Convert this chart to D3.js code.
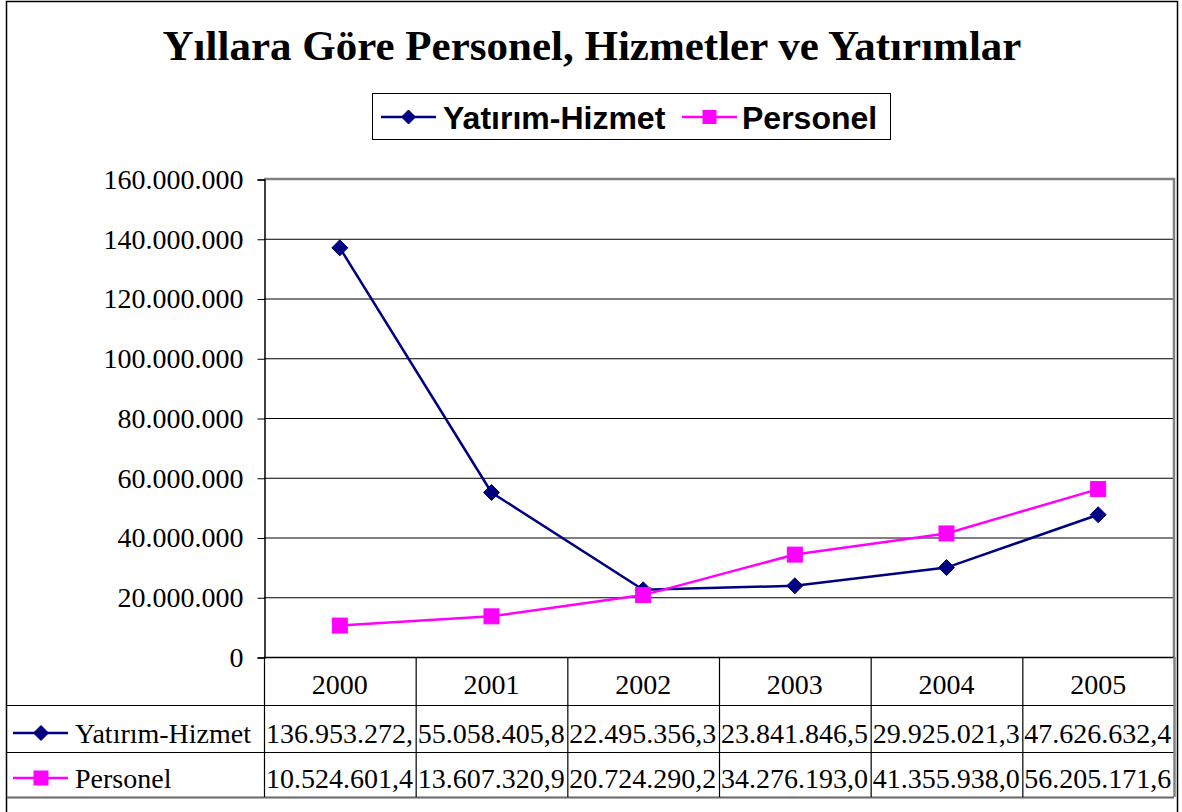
<!DOCTYPE html>
<html>
<head>
<meta charset="utf-8">
<title>Yıllara Göre Personel, Hizmetler ve Yatırımlar</title>
<script src="https://cdn.jsdelivr.net/npm/d3@7"></script>
<style>
  body { margin: 0; background: #fff; }
  svg { display: block; }
</style>
</head>
<body>
<svg width="1182" height="812" id="mainsvg"></svg>
<script>
// data
const years = ['2000', '2001', '2002', '2003', '2004', '2005'];
const yatirimHizmet = [136953272.9, 55058405.8, 22495356.3, 23841846.5, 29925021.3, 47626632.4];
const personel = [10524601.4, 13607320.9, 20724290.2, 34276193.0, 41355938.0, 56205171.6];
const seriesNames = ['Yatırım-Hizmet', 'Personel'];
const yTicks = [0, 20000000, 40000000, 60000000, 80000000, 100000000, 120000000, 140000000, 160000000];
const title = 'Yıllara Göre Personel, Hizmetler ve Yatırımlar';

const colors = ['#000080', '#FF00FF'];
const serif = '"Liberation Serif", "Times New Roman", serif';
const sans = '"Liberation Sans", Arial, sans-serif';

const tr = d3.formatLocale({ decimal: ',', thousands: '.', grouping: [3], currency: ['', ' TL'] });
const fmtAxis = tr.format(',.0f');
const fmtCell = tr.format(',.1f');

const svg = d3.select('svg');

// outer chart frame
svg.append('rect').attr('x', 6.5).attr('y', 1.5).attr('width', 1171).attr('height', 830)
  .attr('fill', '#fff').attr('stroke', '#000').attr('stroke-width', 1.5);

// title
svg.append('text').attr('x', 592).attr('y', 60).attr('text-anchor', 'middle')
  .style('font-family', serif).style('font-weight', 'bold').style('font-size', '43px')
  .text(title);

const plot = { left: 264, top: 179, right: 1174, bottom: 657 };

const x = d3.scaleBand().domain(years).range([plot.left, plot.right]);
const y = d3.scaleLinear().domain([0, 160000000]).range([plot.bottom, plot.top]);

// gridlines
svg.append('g').selectAll('line').data(yTicks.slice(1, -1)).join('line')
  .attr('x1', plot.left).attr('x2', plot.right)
  .attr('y1', d => y(d) + 0.5).attr('y2', d => y(d) + 0.5)
  .attr('stroke', '#000').attr('stroke-width', 1);

// plot border (gray top/right)
svg.append('path')
  .attr('d', `M${plot.left},${plot.top} H${plot.right} V${plot.bottom}`)
  .attr('fill', 'none').attr('stroke', '#808080').attr('stroke-width', 2.5);

// y axis
const yAxis = d3.axisLeft(y).tickValues(yTicks).tickFormat(fmtAxis).tickSize(7).tickPadding(14);
const gy = svg.append('g').attr('transform', `translate(${plot.left + 0.5},0.5)`).call(yAxis);
gy.select('.domain').attr('stroke', '#000').attr('stroke-width', 1.5);
gy.selectAll('.tick line').attr('stroke', '#000');
gy.selectAll('.tick text').style('font-family', serif).style('font-size', '28px').attr('fill', '#000');

// baseline
svg.append('line').attr('x1', plot.left).attr('x2', plot.right)
  .attr('y1', plot.bottom + 0.5).attr('y2', plot.bottom + 0.5).attr('stroke', '#000').attr('stroke-width', 1.5);

// marker drawers
function drawMarker(g, i, cx, cy, s) {
  if (i === 0) {
    g.append('path').attr('d', `M${cx},${cy - s} L${cx + s},${cy} L${cx},${cy + s} L${cx - s},${cy} Z`)
      .attr('fill', colors[0]).attr('stroke', colors[0]).attr('stroke-width', 1);
  } else {
    g.append('rect').attr('x', cx - s).attr('y', cy - s).attr('width', 2 * s).attr('height', 2 * s)
      .attr('fill', colors[1]).attr('stroke', colors[1]).attr('stroke-width', 1);
  }
}

const allSeries = [yatirimHizmet, personel];
const line = d3.line().x((d, i) => x(years[i]) + x.bandwidth() / 2).y(d => y(d));

allSeries.forEach((vals, si) => {
  const g = svg.append('g');
  g.append('path').datum(vals).attr('d', line)
    .attr('fill', 'none').attr('stroke', colors[si]).attr('stroke-width', 2.5);
  vals.forEach((v, i) => drawMarker(g, si, x(years[i]) + x.bandwidth() / 2, y(v), si === 0 ? 8 : 7.5));
});

// legend
const legend = svg.append('g');
legend.append('rect').attr('x', 372.5).attr('y', 93.5).attr('width', 518).attr('height', 46)
  .attr('fill', '#fff').attr('stroke', '#000').attr('stroke-width', 1);
const legItems = [{ x0: 381, tx: 443 }, { x0: 682, tx: 742 }];
legItems.forEach((it, i) => {
  const lg = legend.append('g');
  lg.append('line').attr('x1', it.x0).attr('x2', it.x0 + 55).attr('y1', 117).attr('y2', 117)
    .attr('stroke', colors[i]).attr('stroke-width', 2.5);
  drawMarker(lg, i, it.x0 + 27.5, 117, i === 0 ? 7 : 6.5);
  lg.append('text').attr('x', it.tx).attr('y', 129)
    .style('font-family', sans).style('font-weight', 'bold').style('font-size', '32px')
    .text(seriesNames[i]);
});

// data table
const rows = [657, 705, 752, 797];
const table = svg.append('g');
// horizontal lines
table.selectAll('line.h').data(rows.slice(1)).join('line')
  .attr('x1', 7).attr('x2', plot.right)
  .attr('y1', d => d + 0.5).attr('y2', d => d + 0.5)
  .attr('stroke', (d, i) => i === 2 ? '#666' : '#000').attr('stroke-width', (d, i) => i === 2 ? 2 : 1.2);
// vertical lines
const colEdges = years.map(yr => x(yr)).concat([plot.right]);
table.selectAll('line.v').data(colEdges).join('line')
  .attr('x1', d => d + 0.5).attr('x2', d => d + 0.5)
  .attr('y1', plot.bottom).attr('y2', rows[3])
  .attr('stroke', (d, i) => i === colEdges.length - 1 ? '#808080' : '#000')
  .attr('stroke-width', (d, i) => i === colEdges.length - 1 ? 2.5 : 1.2);

// year headers
table.selectAll('text.yr').data(years).join('text')
  .attr('x', d => x(d) + x.bandwidth() / 2).attr('y', 694).attr('text-anchor', 'middle')
  .style('font-family', serif).style('font-size', '28px')
  .text(d => d);

// row labels with small legend keys
const rowBase = [743, 788];
seriesNames.forEach((name, i) => {
  const g = table.append('g');
  g.append('line').attr('x1', 13).attr('x2', 68).attr('y1', rowBase[i] - 10).attr('y2', rowBase[i] - 10)
    .attr('stroke', colors[i]).attr('stroke-width', 2.5);
  drawMarker(g, i, 41, rowBase[i] - 10, i === 0 ? 7.5 : 7);
  g.append('text').attr('x', 75).attr('y', rowBase[i])
    .style('font-family', serif).style('font-size', '28px').text(name);
});

// cell values; like the spreadsheet, drop trailing characters that do not fit the cell
allSeries.forEach((vals, si) => {
  vals.forEach((v, j) => {
    const t = table.append('text')
      .attr('x', x(years[j]) + 2).attr('y', rowBase[si])
      .style('font-family', serif).style('font-size', '28px');
    let s = fmtCell(v);
    t.text(s);
    while (s.length > 1 && t.node().getComputedTextLength() > x.bandwidth() - 2) {
      s = s.slice(0, -1);
      t.text(s);
    }
  });
});
</script>
</body>
</html>
